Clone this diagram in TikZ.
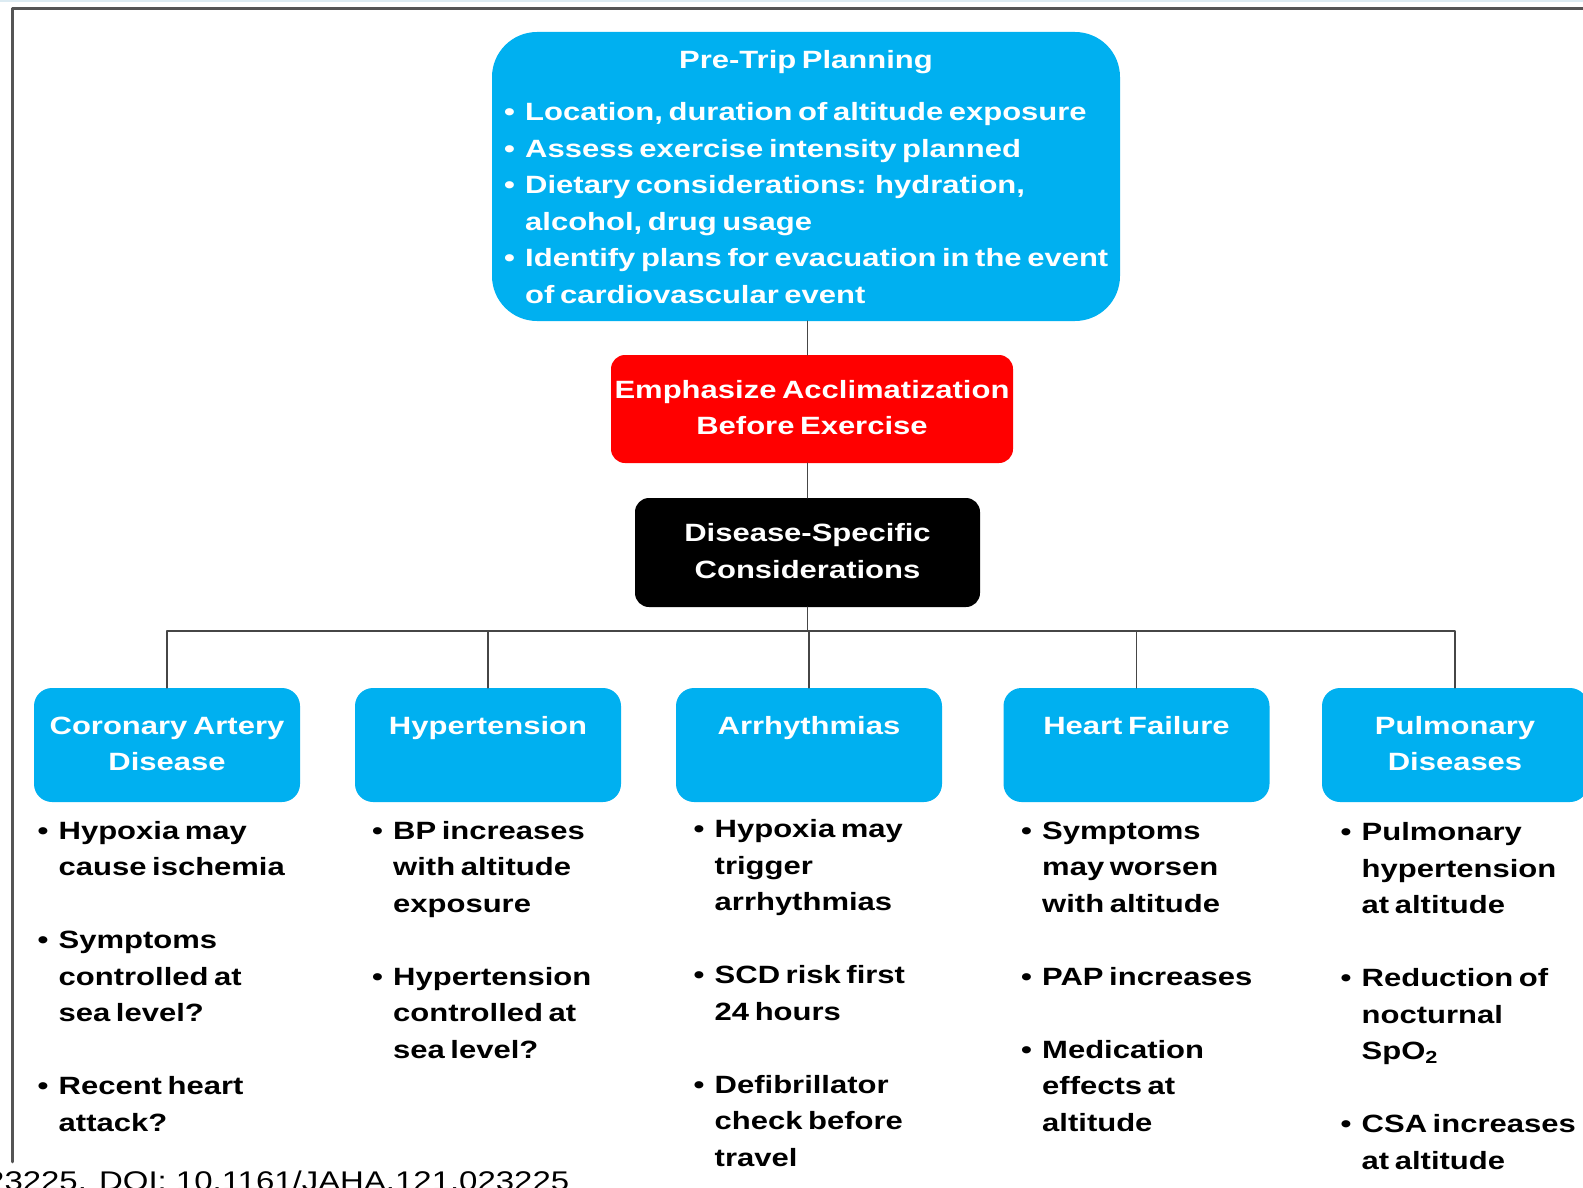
\documentclass[tikz,border=0pt]{standalone}
\usepackage{fontspec}
\newfontfamily\figfont{Liberation Sans}[FakeStretch=1.24, WordSpace=0.65]
\newfontfamily\doifont{Liberation Sans}[FakeStretch=1.22]
\usepackage{tikz}
\usetikzlibrary{positioning}

\definecolor{ltblue}{HTML}{00B0F0}
\definecolor{accred}{HTML}{FF0000}
\definecolor{linegray}{RGB}{70,70,70}
\definecolor{framegray}{RGB}{85,85,85}
\definecolor{topstrip}{RGB}{220,235,242}

\newcommand{\bl}{\makebox[21pt][l]{\textbullet}}
\newcommand{\ind}{\hspace*{21pt}}

\begin{document}
\begin{tikzpicture}[x=1pt, y=-1pt, line cap=round, line join=round,
    txt/.style={font=\figfont\bfseries\fontsize{25}{36.5}\selectfont, inner sep=0pt},
    panel/.style={txt, text=white, align=center, minimum width=266pt, minimum height=114pt, rounded corners=18pt, fill=ltblue},
    notes/.style={txt, align=left, anchor=north west},
    link/.style={draw=linegray, line width=1.6pt}]
	\useasboundingbox (0,0) rectangle (1583,1188);
	\clip (0,0) rectangle (1583,1188);
	\fill[topstrip] (0,0) rectangle (1583,2.5);
	\draw[framegray, line width=2.5pt] (1590,8.5) -- (12.7,8.5) -- (12.7,1162);

	% planning box
	\node[txt, fill=ltblue, rounded corners=45pt, minimum width=628pt, minimum height=289pt] (plan) at (806,176.5) {};
	\node[txt, text=white, anchor=north] (plantitle) at (806,43) {\strut Pre-Trip Planning};
	\node[notes, text=white] (planlist) at (504,95) {\strut\bl Location, duration of altitude exposure\\
		\bl Assess exercise intensity planned\\
		\bl Dietary considerations: hydration,\\
		\ind alcohol, drug usage\\
		\bl Identify plans for evacuation in the event\\
		\ind of cardiovascular event};

	% middle boxes
	\node[txt, text=white, align=center, fill=accred, rounded corners=14pt, minimum width=402pt, minimum height=108pt] (accl) at (812,409) {\strut Emphasize Acclimatization\\Before Exercise\strut};
	\node[txt, text=white, align=center, fill=black, rounded corners=14pt, minimum width=345pt, minimum height=109pt] (dsc) at (807.5,552.5) {\strut Disease-Specific\\Considerations\strut};

	% disease boxes
	\node[panel] (cad) at (167,745) {\strut Coronary Artery\\Disease\strut};
	\node[panel] (htn) at (488,745) {\strut Hypertension\\\strut};
	\node[panel] (arr) at (809,745) {\strut Arrhythmias\\\strut};
	\node[panel] (hf) at (1136.5,745) {\strut Heart Failure\\\strut};
	\node[panel] (pul) at (1455,745) {\strut Pulmonary\\Diseases\strut};

	% connectors
	\coordinate (busy) at (0,631);
	\draw[link] (plan.south -| dsc.north) -- (accl.north -| dsc.north);
	\draw[link] (accl.south -| dsc.north) -- (dsc.north);
	\draw[link] (dsc.south) -- (dsc.south |- busy);
	\foreach \n in {cad,htn,arr,hf,pul}
		\draw[link] (dsc.south |- busy) -| (\n.north);

	% bullet notes
	\node[notes] (cadnotes) at (37.5,813.5) {\strut\bl Hypoxia may\\
		\ind cause ischemia\\[36.5pt]
		\bl Symptoms\\
		\ind controlled at\\
		\ind sea level?\\[36.5pt]
		\bl Recent heart\\
		\ind attack?};
	\node[notes] (htnnotes) at (372,813.5) {\strut\bl BP increases\\
		\ind with altitude\\
		\ind exposure\\[36.5pt]
		\bl Hypertension\\
		\ind controlled at\\
		\ind sea level?};
	\node[notes] (arrnotes) at (693.5,812) {\strut\bl Hypoxia may\\
		\ind trigger\\
		\ind arrhythmias\\[36.5pt]
		\bl SCD risk first\\
		\ind 24 hours\\[36.5pt]
		\bl Defibrillator\\
		\ind check before\\
		\ind travel};
	\node[notes] (hfnotes) at (1021,813.5) {\strut\bl Symptoms\\
		\ind may worsen\\
		\ind with altitude\\[36.5pt]
		\bl PAP increases\\[36.5pt]
		\bl Medication\\
		\ind effects at\\
		\ind altitude};
	\node[notes] (pulnotes) at (1340.5,815) {\strut\bl Pulmonary\\
		\ind hypertension\\
		\ind at altitude\\[36.5pt]
		\bl Reduction of\\
		\ind nocturnal\\
		\ind SpO\textsubscript{2}\\[36.5pt]
		\bl CSA increases\\
		\ind at altitude};

	% citation line, cut at the page edge
	\node[anchor=base west, inner sep=0pt, font=\doifont\fontsize{27}{30}\selectfont] (doi) at (-14,1190) {23225. DOI: 10.1161/JAHA.121.023225};
\end{tikzpicture}
\end{document}
